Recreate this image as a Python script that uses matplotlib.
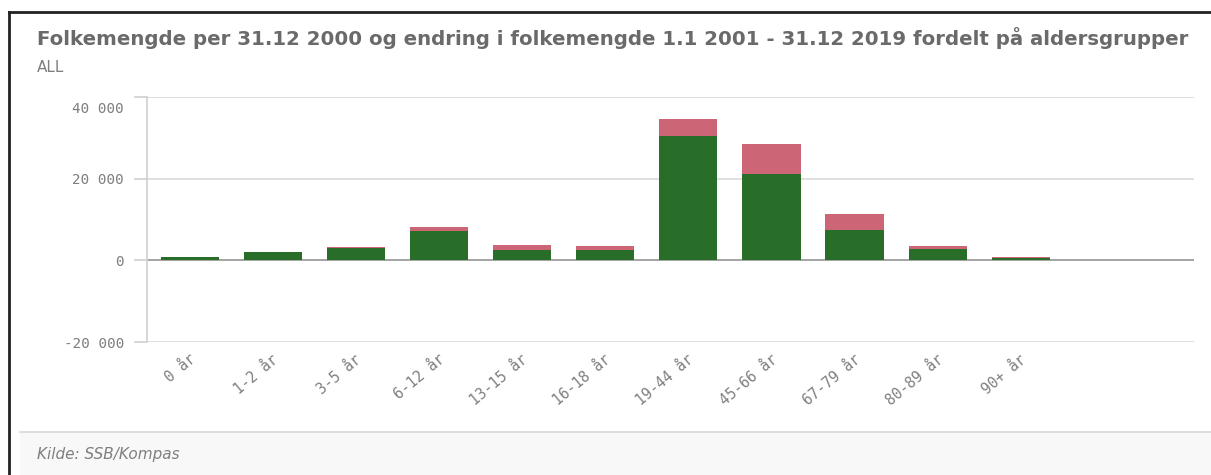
import matplotlib.pyplot as plt
from matplotlib.lines import Line2D
from matplotlib.patches import Rectangle
from matplotlib.ticker import FuncFormatter
import matplotlib.transforms as mtransforms

# aldersgrupper og verdier
groups = ['0 år', '1-2 år', '3-5 år', '6-12 år', '13-15 år', '16-18 år',
          '19-44 år', '45-66 år', '67-79 år', '80-89 år', '90+ år']
pop_2000 = [900, 1970, 3100, 7100, 2600, 2550, 30400, 21150, 7450, 2850, 500]
change = [0, 0, 150, 1200, 1150, 1050, 4300, 7500, 3850, 650, 300]

green = '#286e28'
red = '#cc6677'
grey_txt = '#7f7f7f'

fig = plt.figure(figsize=(12.11, 4.75), dpi=100)
W, H = 1211, 475
ax = fig.add_axes([147 / W, 1 - 342 / H, (1194 - 147) / W, (342 - 97.3) / H])

x = list(range(len(groups)))
ax.bar(x, pop_2000, width=0.70, color=green, zorder=3)
ax.bar(x, change, width=0.70, bottom=pop_2000, color=red, zorder=3)

ax.set_xlim(-0.514, 12.085)
ax.set_ylim(-20000, 40000)
ax.set_yticks([-20000, 0, 20000, 40000])
ax.yaxis.set_major_formatter(FuncFormatter(lambda v, p: f'{int(v):,}'.replace(',', '\u2009')))
ax.grid(axis='y', color='#dcdcdc', linewidth=1.3, zorder=0)
ax.axhline(0, color='#a0a0a0', linewidth=1.3, zorder=2)

for s in ['top', 'right', 'bottom']:
    ax.spines[s].set_visible(False)
ax.spines['left'].set_color('#d0d0d0')
ax.spines['left'].set_linewidth(1.2)

ax.set_xticks(x)
ax.set_xticklabels(groups, rotation=40, ha='right', rotation_mode='anchor',
                   family='DejaVu Sans Mono', fontsize=10.5, color=grey_txt)
ax.tick_params(axis='x', length=0, pad=7)
ax.tick_params(axis='y', length=9.5, width=1.2, color='#d0d0d0', labelsize=10.3,
               labelcolor=grey_txt, pad=7)
for t in ax.get_yticklabels():
    t.set_family('DejaVu Sans Mono')
# øverste etikett ligger litt under linjen
top_lbl = ax.get_yticklabels()[-1]
top_lbl.set_transform(top_lbl.get_transform() + mtransforms.ScaledTranslation(0, -10 / 100, fig.dpi_scale_trans))
shift = mtransforms.ScaledTranslation(-1 / 100, 0, fig.dpi_scale_trans)
for t in ax.get_xticklabels():
    t.set_transform(t.get_transform() + shift)

fig.text(37 / W, 1 - 38 / H, 'Folkemengde per 31.12 2000 og endring i folkemengde 1.1 2001 - 31.12 2019 fordelt på aldersgrupper',
         fontsize=14.2, fontweight='bold', color='#6a6a6a', va='center', family='DejaVu Sans')
fig.text(37 / W, 1 - 68 / H, 'ALL', fontsize=11, color=grey_txt, va='center')

# kildefelt
fig.add_artist(Rectangle((20 / W, 0), 1 - 20 / W, 1 - 432 / H, transform=fig.transFigure,
                         facecolor='#f8f8f8', edgecolor='none', zorder=0))
fig.add_artist(Line2D([20 / W, 1], [1 - 432 / H, 1 - 432 / H], color='#d8d8d8', linewidth=1.2))
fig.text(37 / W, 1 - 455 / H, 'Kilde: SSB/Kompas', fontsize=11, style='italic',
         color=grey_txt, va='center')

# ramme
fig.add_artist(Line2D([9 / W, 9 / W], [0, 1 - 11.5 / H], color='#222222', linewidth=2))
fig.add_artist(Line2D([9 / W, 1], [1 - 11.5 / H, 1 - 11.5 / H], color='#222222', linewidth=2))

fig.savefig('out.png', dpi=100)
